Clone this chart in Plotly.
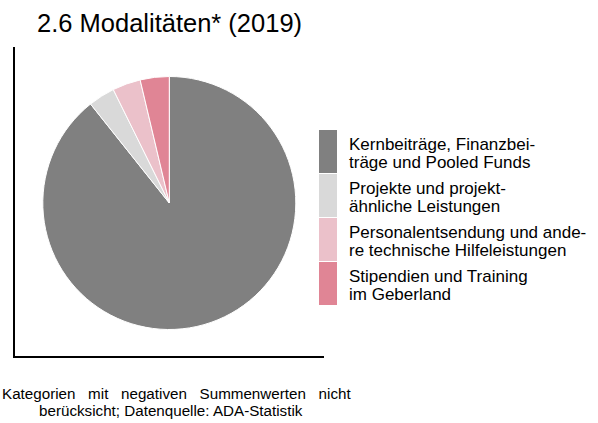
import plotly.graph_objects as go

# Modalitäten 2019, Anteile in Prozent
categories = [
    ["Kernbeiträge, Finanzbei-", "träge und Pooled Funds"],
    ["Projekte und projekt-", "ähnliche Leistungen"],
    ["Personalentsendung und ande-", "re technische Hilfeleistungen"],
    ["Stipendien und Training", "im Geberland"],
]
values = [89.3, 3.4, 3.6, 3.7]
colors = ["#808080", "#d9d9d9", "#ebc1ca", "#e08595"]

title_text = "2.6 Modalitäten* (2019)"
# first footnote line is set justified (wider word gaps)
gap = "\u00a0" * 3
footnote_lines = [
    gap.join(["Kategorien", "mit", "negativen", "Summenwerten", "nicht"]),
    "berücksicht; Datenquelle: ADA-Statistik",
]

W, H = 598, 423
FONT = "Liberation Sans, Arial, sans-serif"


def px_x(x):
    return x / W


def px_y(y):
    return 1 - y / H


fig = go.Figure()
fig.add_trace(go.Pie(
    labels=[" ".join(c) for c in categories],
    values=values,
    marker=dict(colors=colors, line=dict(color="white", width=1)),
    sort=False,
    direction="clockwise",
    rotation=0,
    textinfo="none",
    hoverinfo="label+percent",
    domain=dict(x=[px_x(42.8), px_x(295.8)], y=[px_y(329.5), px_y(76.5)]),
    showlegend=False,
))

shapes = [
    # L-shaped frame around the pie
    dict(type="path", xref="paper", yref="paper",
         path=f"M {px_x(14)} {px_y(47)} L {px_x(14)} {px_y(357)} L {px_x(324)} {px_y(357)}",
         line=dict(color="black", width=2)),
]


def text(t, x, y, size, xanchor="left"):
    return dict(text=t, x=px_x(x), y=px_y(y), xref="paper", yref="paper",
                xanchor=xanchor, yanchor="middle", showarrow=False,
                font=dict(family=FONT, size=size, color="black"))


annotations = [text(title_text, 35, 23, 25.5)]
annotations.append(text(footnote_lines[0], 0, 393, 15.2, xanchor="left"))
annotations.append(text(footnote_lines[1], 171, 410, 15.2, xanchor="center"))

# legend: tall swatches with two-line labels
top, pitch = 130, 44
for i, (lab, col) in enumerate(zip(categories, colors)):
    y0 = top + i * pitch
    y1 = y0 + pitch - 1
    shapes.append(dict(type="rect", xref="paper", yref="paper",
                       x0=px_x(319), x1=px_x(337), y0=px_y(y1), y1=px_y(y0),
                       fillcolor=col, line=dict(width=0)))
    annotations.append(text(lab[0], 347, y0 + 14, 17))
    annotations.append(text(lab[1], 347, y0 + 32.5, 17))

fig.update_layout(
    width=W, height=H,
    margin=dict(l=0, r=0, t=0, b=0),
    paper_bgcolor="white", plot_bgcolor="white",
    shapes=shapes, annotations=annotations,
)

fig.write_html("out.html")
